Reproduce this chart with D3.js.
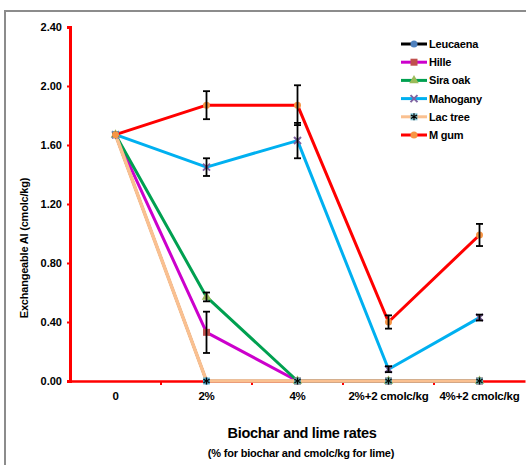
<!DOCTYPE html>
<html><head><meta charset="utf-8">
<script src="https://cdn.jsdelivr.net/npm/d3@7"></script>
<style>body{margin:0;background:#fff}svg{display:block;font-family:"Liberation Sans",Arial,sans-serif;font-weight:bold}</style>
</head><body><svg id="c" width="526" height="465"></svg>
<script>
const categories = ["0","2%","4%","2%+2 cmolc/kg","4%+2 cmolc/kg"];
const yTicks = [0,0.4,0.8,1.2,1.6,2.0,2.4];
const seriesNames = ["Leucaena","Hille","Sira oak","Mahogany","Lac tree","M gum"];
const leucaena = [1.67,0,0,0,0];
const hille = [1.67,0.33,0,0,0];
const siraOak = [1.67,0.57,0,0,0];
const mahogany = [1.67,1.45,1.63,0.08,0.43];
const lacTree = [1.67,0,0,0,0];
const mGum = [1.67,1.87,1.87,0.40,0.99];
const errHille = [0,0.14,0,0,0];
const errSiraOak = [0,0.03,0,0,0];
const errMahogany = [0,0.06,0.12,0.02,0.02];
const errMGum = [0,0.095,0.135,0.045,0.075];
const errNone = [0,0,0,0,0];

const series = [
 {name:seriesNames[0],v:leucaena,e:errNone,line:"#000000",mk:"#4F81BD",shape:"circle",w:2.6},
 {name:seriesNames[1],v:hille,e:errHille,line:"#CC00CC",mk:"#C0504D",shape:"square",w:3},
 {name:seriesNames[2],v:siraOak,e:errSiraOak,line:"#00A050",mk:"#9BBB59",shape:"triangle",w:3},
 {name:seriesNames[3],v:mahogany,e:errMahogany,line:"#00B0F0",mk:"#8064A2",shape:"x",w:3},
 {name:seriesNames[4],v:lacTree,e:errNone,line:"#FAC090",mk:"#4BACC6",shape:"star",w:3.6},
 {name:seriesNames[5],v:mGum,e:errMGum,line:"#FF0000",mk:"#F79646",shape:"circle",w:3}
];

const svg = d3.select("#c");
svg.append("path").attr("d","M5,465 V11 H526").attr("fill","none").attr("stroke","#8c8c8c").attr("stroke-width",2);

const x = d3.scaleBand().domain(categories).range([70,525]);
const y = d3.scaleLinear().domain([0,2.4]).range([381,27]);

const ya = svg.append("g").attr("transform","translate(70,0)")
 .call(d3.axisLeft(y).tickValues(yTicks).tickSize(3).tickPadding(5).tickFormat(d3.format(".2f")));
ya.select(".domain").attr("stroke","#ff0000").attr("stroke-width",3);
ya.selectAll(".tick line").attr("stroke","#ff0000").attr("stroke-width",2);
ya.selectAll("text").attr("font-size",11).attr("font-weight","bold").attr("fill","#000").attr("font-family","Liberation Sans, Arial");

const xa = svg.append("g").attr("transform","translate(0,381)")
 .call(d3.axisBottom(x).tickSize(0).tickPadding(11));
xa.select(".domain").attr("stroke","#ff0000").attr("stroke-width",2.5);
xa.selectAll("text").attr("font-size",11.5).attr("font-weight","bold").attr("fill","#000").attr("font-family","Liberation Sans, Arial").attr("letter-spacing","-0.2");
const bounds = categories.slice(1).map(c=>x(c));
svg.append("g").selectAll("line").data(bounds).join("line")
 .attr("x1",d=>d).attr("x2",d=>d).attr("y1",381).attr("y2",385)
 .attr("stroke","#ff0000").attr("stroke-width",2);

const cx = c => x(c)+x.bandwidth()/2;
const line = d3.line().x((d,i)=>cx(categories[i])).y(d=>y(d));

function marker(g, shape, fill, size){
  if(shape==="circle") g.append("circle").attr("r",size/2).attr("fill",fill);
  else if(shape==="square") g.append("rect").attr("x",-size/2).attr("y",-size/2).attr("width",size).attr("height",size).attr("fill",fill);
  else if(shape==="triangle") g.append("path").attr("d",d3.symbol(d3.symbolTriangle,size*size*0.8)()).attr("fill",fill);
  else if(shape==="x") g.append("path").attr("d",`M${-size/2},${-size/2}L${size/2},${size/2}M${-size/2},${size/2}L${size/2},${-size/2}`).attr("stroke",fill).attr("stroke-width",2);
  else if(shape==="star"){ g.append("rect").attr("x",-size/2).attr("y",-size/2).attr("width",size).attr("height",size).attr("fill","#4BACC6").attr("opacity",0.7);
    g.append("path").attr("d",d3.symbol(d3.symbolAsterisk? d3.symbolAsterisk : d3.symbolCross,size*size*0.7)()).attr("stroke","#000").attr("fill","#000").attr("stroke-width",1.2);}
}

const plot = svg.append("g");
series.forEach(s=>{
  plot.append("path").attr("d",line(s.v)).attr("fill","none").attr("stroke",s.line).attr("stroke-width",s.w).attr("stroke-linejoin","round");
});
series.forEach(s=>{
  s.v.forEach((v,i)=>{
    const g = plot.append("g").attr("transform",`translate(${cx(categories[i])},${y(v)})`);
    marker(g,s.shape,s.mk,7);
  });
});
series.forEach(s=>{
  s.v.forEach((v,i)=>{
    const e = s.e[i]; if(!e) return;
    const px = cx(categories[i]);
    const g = plot.append("g").attr("stroke","#000").attr("stroke-width",1.8);
    g.append("line").attr("x1",px).attr("x2",px).attr("y1",y(v+e)).attr("y2",y(v-e));
    g.append("line").attr("x1",px-3.5).attr("x2",px+3.5).attr("y1",y(v+e)).attr("y2",y(v+e));
    g.append("line").attr("x1",px-3.5).attr("x2",px+3.5).attr("y1",y(v-e)).attr("y2",y(v-e));
  });
});

const lg = svg.append("g").attr("transform","translate(401,44)");
series.forEach((s,i)=>{
  const g = lg.append("g").attr("transform",`translate(0,${i*18.2})`);
  g.append("line").attr("x1",0).attr("x2",26).attr("stroke",s.line).attr("stroke-width",3);
  const m = g.append("g").attr("transform","translate(13,0)");
  marker(m,s.shape,s.mk,7);
  g.append("text").attr("x",28).attr("y",4).attr("font-size",11).attr("letter-spacing","-0.2").text(s.name);
});

svg.append("text").attr("transform","translate(28,248) rotate(-90)").attr("text-anchor","middle")
 .attr("font-size",11).attr("letter-spacing","-0.2").text("Exchangeable Al (cmolc/kg)");
svg.append("text").attr("x",302).attr("y",438).attr("text-anchor","middle").attr("font-size",14.5).attr("letter-spacing","-0.3").text("Biochar and lime rates");
svg.append("text").attr("x",301).attr("y",457).attr("text-anchor","middle").attr("font-size",11).attr("letter-spacing","-0.2").text("(% for biochar and cmolc/kg for lime)");
</script></body></html>
